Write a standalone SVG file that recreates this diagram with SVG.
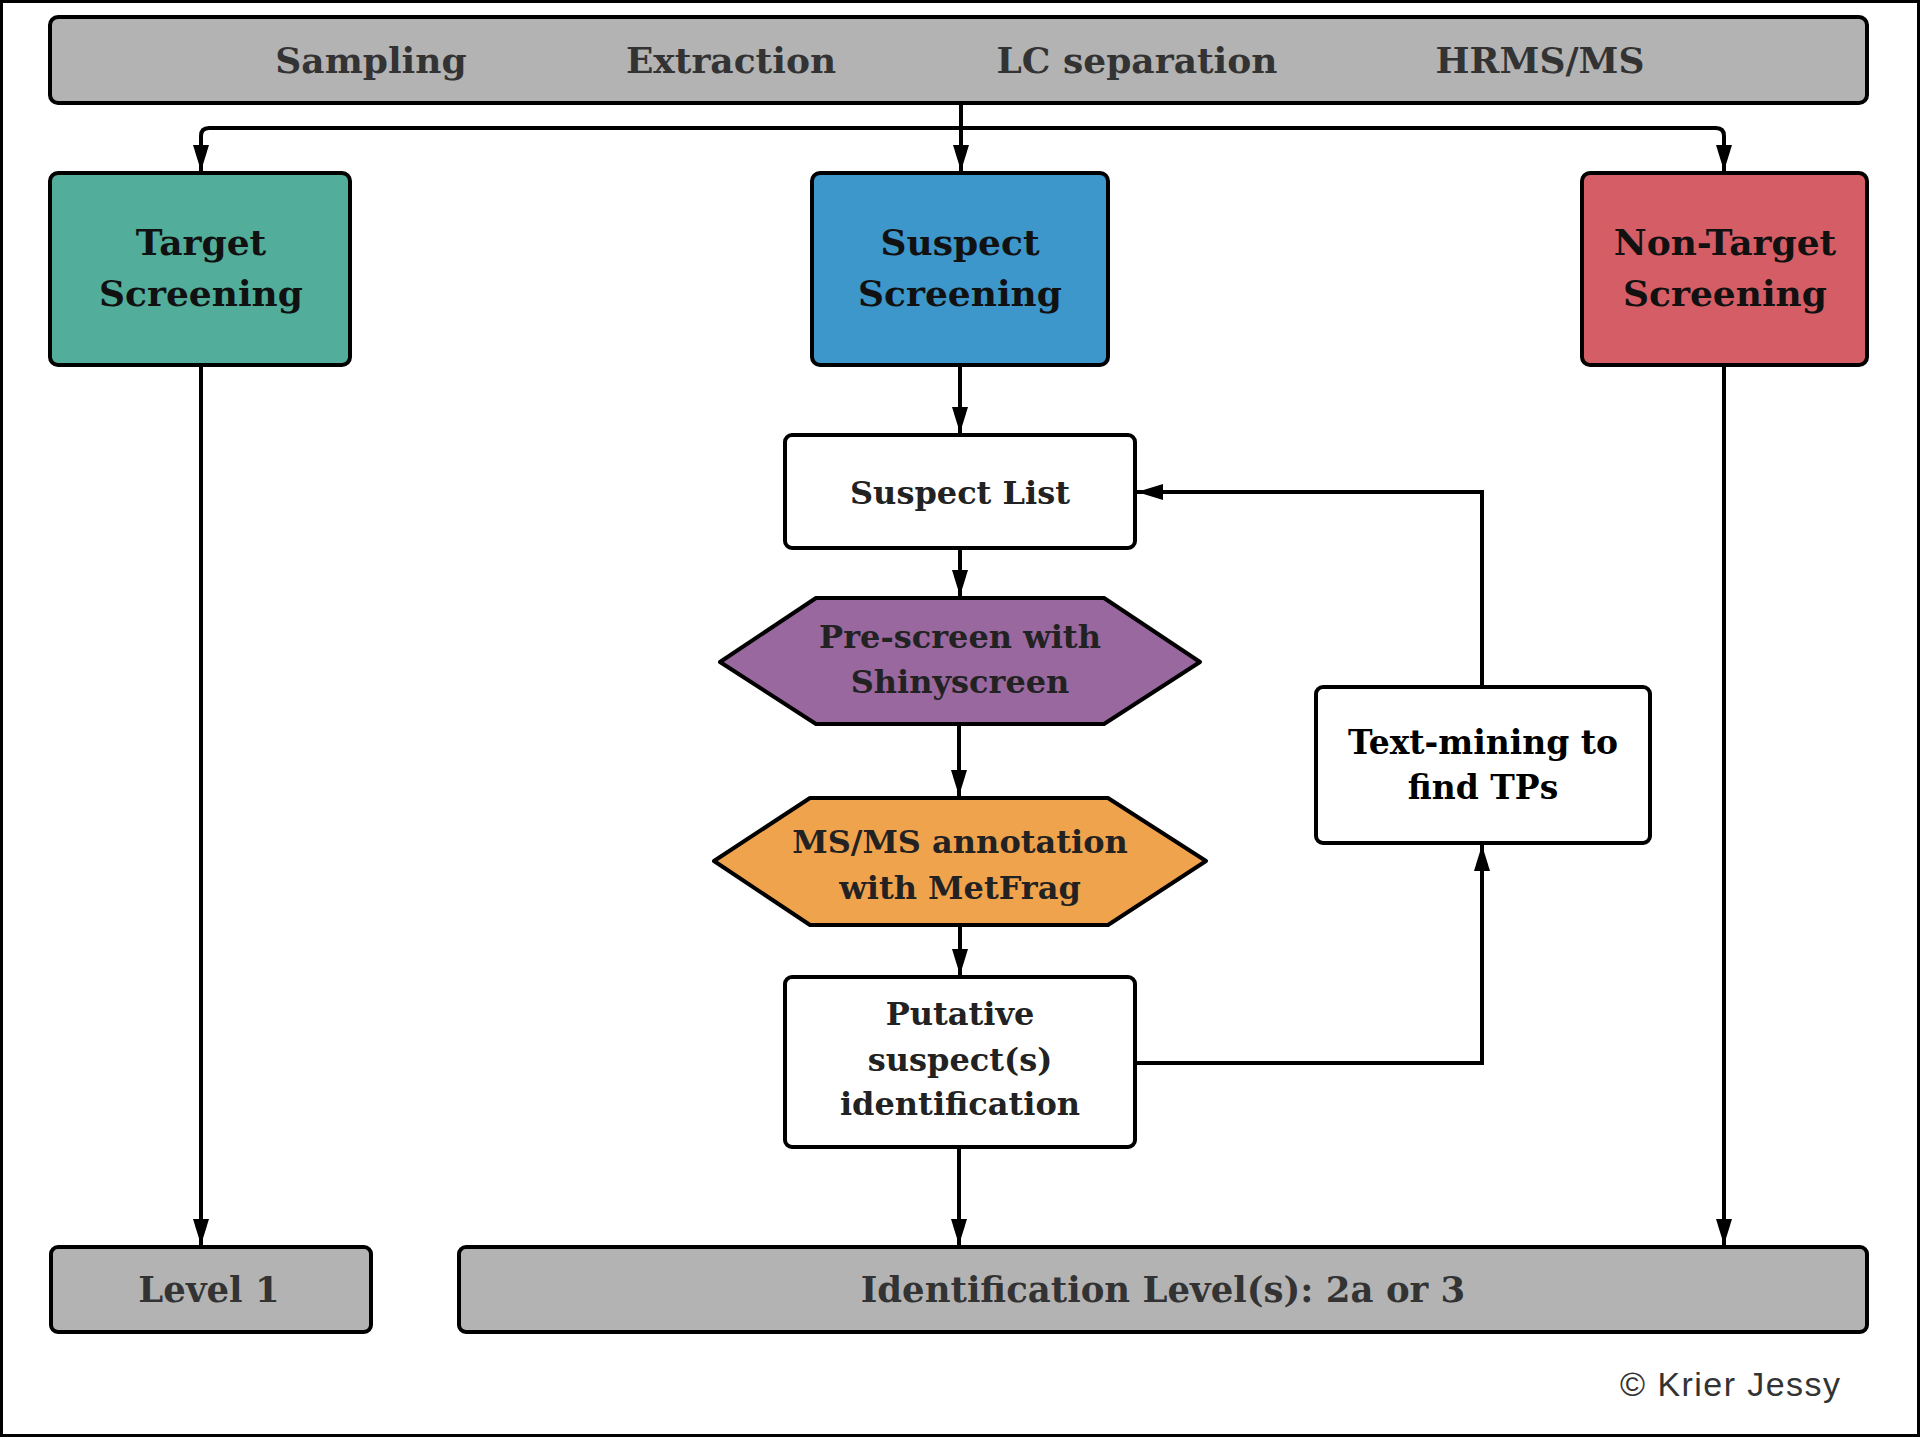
<svg xmlns="http://www.w3.org/2000/svg" width="1920" height="1437" viewBox="0 0 1920 1437">
<defs>
<marker id="arr" markerUnits="userSpaceOnUse" markerWidth="26" markerHeight="16" refX="26" refY="8" orient="auto">
<path d="M0,0 L26,8 L0,16 z" fill="#000"/>
</marker>
<style>
.box{stroke:#000;stroke-width:4}
.gray{fill:#b3b3b3}
.white{fill:#fff}
.t{font-family:"DejaVu Serif","Liberation Serif",serif;font-weight:bold;text-anchor:middle}
.top{font-size:36px;fill:#333}
.big{font-size:36px;fill:#111}
.mid{font-size:32px;fill:#222}
.lvl{font-size:35.5px;fill:#333}
.conn path{fill:none;stroke:#000;stroke-width:4;marker-end:url(#arr)}
</style>
</defs>
<rect x="0" y="0" width="1920" height="1437" fill="#fff"/>
<rect x="1.5" y="1.5" width="1917" height="1434" fill="none" stroke="#000" stroke-width="3"/>

<g id="header">
<rect class="box gray" x="50" y="17" width="1817" height="86" rx="8"/>
<text class="t top" x="371" y="73">Sampling</text>
<text class="t top" x="731" y="73">Extraction</text>
<text class="t top" x="1137" y="73">LC separation</text>
<text class="t top" x="1540" y="73">HRMS/MS</text>
</g>

<g id="target">
<rect class="box" fill="#52ae9a" x="50" y="173" width="300" height="192" rx="8"/>
<text class="t big" x="201" y="255">Target</text>
<text class="t big" x="201" y="306">Screening</text>
</g>

<g id="suspect">
<rect class="box" fill="#3d97cb" x="812" y="173" width="296" height="192" rx="8"/>
<text class="t big" x="960" y="255">Suspect</text>
<text class="t big" x="960" y="306">Screening</text>
</g>

<g id="nontarget">
<rect class="box" fill="#d55e66" x="1582" y="173" width="285" height="192" rx="8"/>
<text class="t big" x="1725" y="255">Non-Target</text>
<text class="t big" x="1725" y="306">Screening</text>
</g>

<g id="suspectlist">
<rect class="box white" x="785" y="435" width="350" height="113" rx="7"/>
<text class="t mid" x="960" y="504">Suspect List</text>
</g>

<g id="prescreen">
<path class="box" fill="#98689f" d="M720,662 L816,598 H1104 L1200,662 L1104,724 H816 Z" stroke-linejoin="round"/>
<text class="t mid" x="960" y="648">Pre-screen with</text>
<text class="t mid" x="960" y="693">Shinyscreen</text>
</g>

<g id="metfrag">
<path class="box" fill="#f0a34d" d="M714,861 L810,798 H1108 L1206,861 L1108,925 H810 Z" stroke-linejoin="round"/>
<text class="t mid" x="960" y="853">MS/MS annotation</text>
<text class="t mid" x="960" y="899">with MetFrag</text>
</g>

<g id="putative">
<rect class="box white" x="785" y="977" width="350" height="170" rx="7"/>
<text class="t mid" x="960" y="1025">Putative</text>
<text class="t mid" x="960" y="1071">suspect(s)</text>
<text class="t mid" x="960" y="1115">identification</text>
</g>

<g id="textmining">
<rect class="box white" x="1316" y="687" width="334" height="156" rx="7"/>
<text class="t" font-size="33" fill="#000" x="1483" y="754">Text-mining to</text>
<text class="t" font-size="33" fill="#000" x="1483" y="799">find TPs</text>
</g>

<g id="level1">
<rect class="box gray" x="51" y="1247" width="320" height="85" rx="7"/>
<text class="t lvl" x="209" y="1302">Level 1</text>
</g>

<g id="identlevel">
<rect class="box gray" x="459" y="1247" width="1408" height="85" rx="7"/>
<text class="t lvl" x="1163" y="1302">Identification Level(s): 2a or 3</text>
</g>

<g class="conn" id="connectors">
<path d="M961,103 V171"/>
<path d="M961,128 H209 Q201,128 201,136 V171"/>
<path d="M961,128 H1716 Q1724,128 1724,136 V171"/>
<path d="M201,365 V1245"/>
<path d="M1724,365 V1245"/>
<path d="M960,365 V433"/>
<path d="M960,548 V596"/>
<path d="M959,724 V796"/>
<path d="M960,925 V975"/>
<path d="M959,1147 V1245"/>
<path d="M1135,1063 H1482 V845"/>
<path d="M1482,687 V492 H1137"/>
</g>

<text x="1620" y="1396" font-family="Liberation Sans, Arial, sans-serif" font-size="34" fill="#333" textLength="220" lengthAdjust="spacing">© Krier Jessy</text>
</svg>
